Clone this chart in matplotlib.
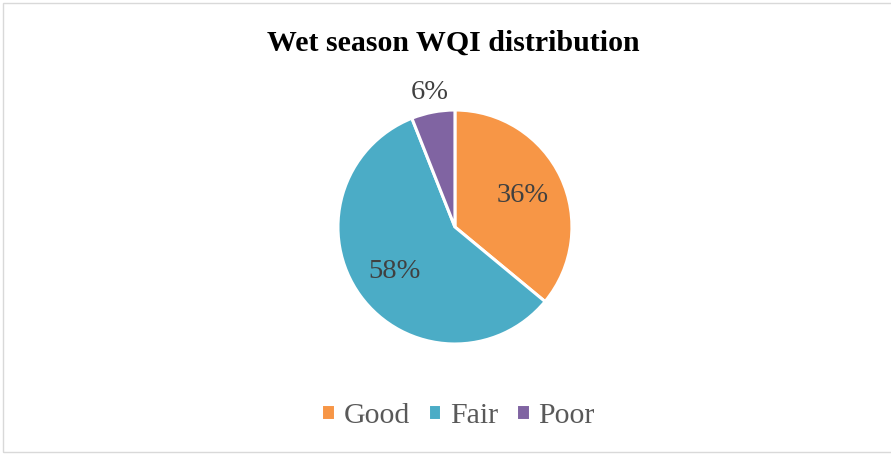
import numpy as np
import matplotlib.pyplot as plt
from matplotlib.patches import Rectangle

plt.rcParams['font.family'] = ['Liberation Serif', 'DejaVu Serif']

categories = ["Good", "Fair", "Poor"]
shares = [36, 58, 6]
colors = ["#F79646", "#4BACC6", "#8064A2"]

fig = plt.figure(figsize=(8.91, 4.54), dpi=100)

# light grey frame around the whole chart area
fig.patches.append(Rectangle((3 / 891, 2 / 454), 1.0, 449 / 454, transform=fig.transFigure,
                             fill=False, edgecolor="#D9D9D9", linewidth=1.0))

ax = fig.add_axes([0.3793, 0.2423, 0.2626, 0.5154])
wedges, texts, autotexts = ax.pie(
    shares, colors=colors, startangle=90, counterclock=False, radius=1.0,
    autopct=lambda p: f"{p:.0f}%", pctdistance=0.64,
    wedgeprops=dict(edgecolor="white", linewidth=2.2),
    textprops=dict(fontsize=20.5, color="#404040"))
ax.set_xlim(-1.0, 1.0)
ax.set_ylim(-1.0, 1.0)
ax.set_aspect("equal")
ax.axis("off")

# the small slice gets its label outside the pie
w = wedges[2]
mid = np.deg2rad((w.theta1 + w.theta2) / 2)
autotexts[2].set_position((1.17 * np.cos(mid), 1.17 * np.sin(mid)))

fig.text(0.509, 0.905, "Wet season WQI distribution", ha="center", va="center",
         fontsize=21.5, fontweight="bold", color="black")

fig.legend(wedges, categories, loc="center", bbox_to_anchor=(0.514, 0.084), ncol=3,
           frameon=False, fontsize=21.5, labelcolor="#595959", handlelength=0.45,
           handleheight=0.45, handletextpad=0.3, columnspacing=0.6)

fig.savefig("out.png", dpi=100)
